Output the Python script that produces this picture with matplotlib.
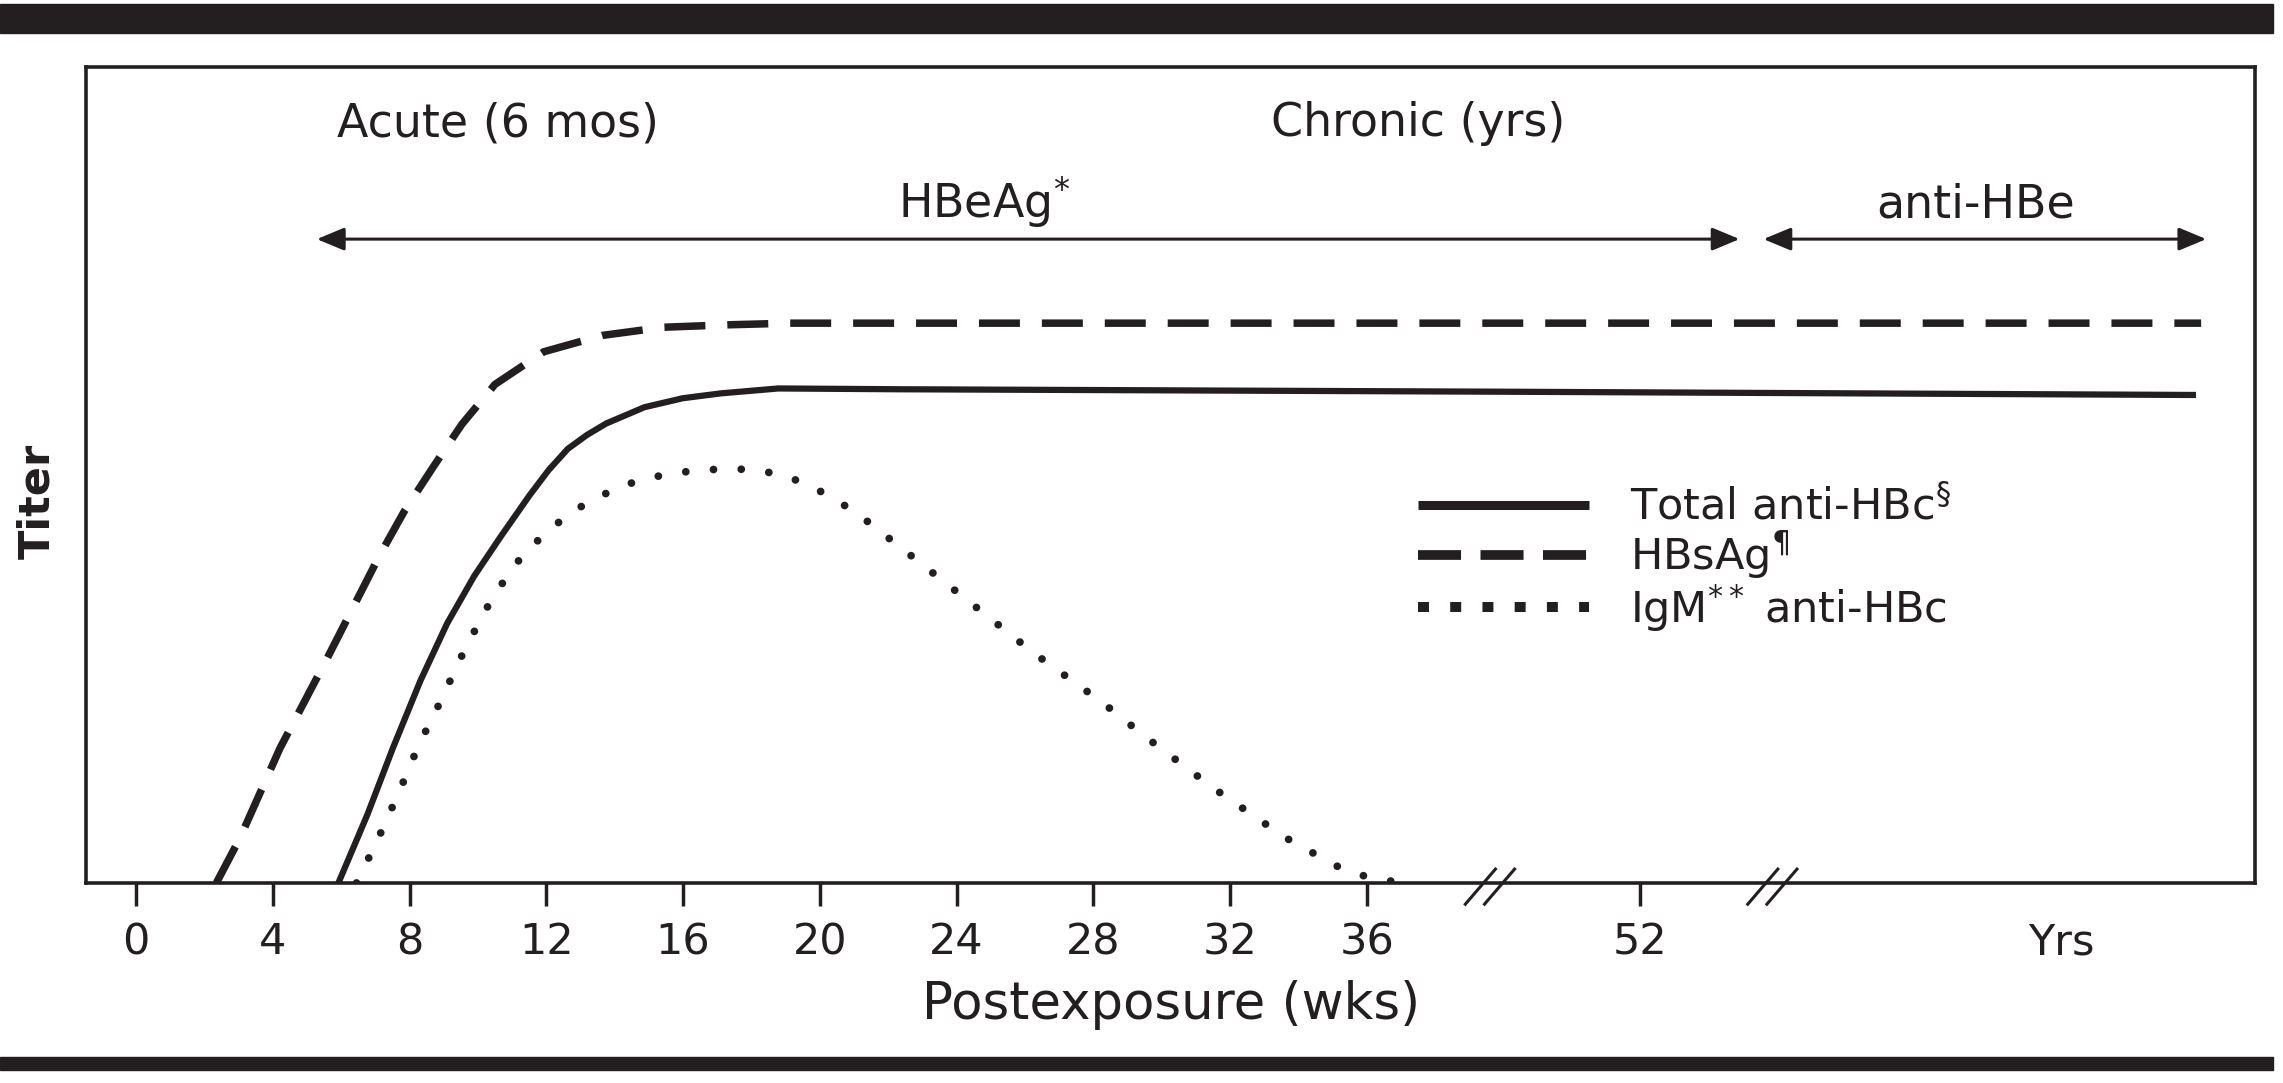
import matplotlib
matplotlib.use('Agg')
import matplotlib.pyplot as plt
from matplotlib.lines import Line2D
from matplotlib.patches import Rectangle

plt.rcParams['font.family'] = ['DejaVu Sans']
plt.rcParams['mathtext.fontset'] = 'dejavusans'
plt.rcParams['lines.scale_dashes'] = False  # dash patterns below are in points

INK = '#231f20'

# x values are on the chart's own broken scale: weeks 0-36 as drawn,
# the "52" tick sits at 44 and the "Yrs" section comes after the second break
tick_pos = [0, 4, 8, 12, 16, 20, 24, 28, 32, 36, 44, 56.3]
tick_labels = ['0', '4', '8', '12', '16', '20', '24', '28', '32', '36', '52', 'Yrs']
break_pos = [39.6, 47.86]

# HBsAg (dashed)
hbsag_x = [2.35, 3.04, 4.21, 5.6, 7.12, 7.84, 8.68, 9.53, 10.5, 11.93, 13.64,
           15.43, 17.33, 19.12, 60.4]
hbsag_y = [0, 5.5, 16.5, 27.6, 40.1, 45.5, 50.9, 56.2, 61.1, 65.1, 67.1,
           68.1, 68.4, 68.6, 68.6]

# Total anti-HBc (solid)
total_x = [5.92, 6.77, 7.52, 8.32, 9.1, 9.89, 10.66, 11.51, 12.07, 12.63, 13.19,
           13.75, 14.31, 14.87, 15.99, 17.11, 18.79, 22.35, 40.0, 60.25]
total_y = [0, 8.4, 16.6, 24.8, 31.8, 37.6, 42.4, 47.5, 50.6, 53.2, 54.9,
           56.3, 57.3, 58.3, 59.4, 60.0, 60.6, 60.5, 60.2, 59.8]

# IgM anti-HBc (dotted)
igm_x = [6.45, 7.09, 7.7, 8.26, 8.9, 9.5, 10.2, 11.0, 11.56, 12.12, 12.8,
         13.52, 14.31, 15.2, 16.1, 16.99, 17.89, 18.84, 19.66, 20.41, 21.12,
         21.79, 22.4, 24.33, 26.25, 28.27, 29.56, 31.52, 33.6, 35.1, 35.89,
         36.74, 37.0]
igm_y = [0, 5.5, 11.2, 16.8, 22.2, 27.6, 33.3, 38.6, 41.2, 43.4, 45.6,
         47.3, 48.8, 49.8, 50.4, 50.7, 50.7, 50.1, 48.8, 47.1, 45.2,
         43.0, 41.0, 34.6, 28.2, 22.1, 17.8, 11.6, 5.6, 2.1, 0.9,
         0.2, 0]

series_labels = ['Total anti-HBc$^{§}$', 'HBsAg$^{¶}$', 'IgM$^{**}$ anti-HBc']

phase_labels = ['Acute (6 mos)', 'Chronic (yrs)']
phase_x = [10.6, 37.5]
marker_labels = ['HBeAg$^{*}$', 'anti-HBe']
marker_x = [24.8, 53.8]
marker_spans = [(5.29, 46.9), (47.6, 60.55)]
arrow_y = 78.9

fig = plt.figure(figsize=(22.83, 10.83), dpi=100)
ax = fig.add_axes([0.0377, 0.1847, 0.9501, 0.7535])

# heavy rules above and below the figure
fig.patches.append(Rectangle((0, 0.9695), 0.9956, 0.0268, transform=fig.transFigure,
                             color=INK, zorder=0))
fig.patches.append(Rectangle((0, 0.0120), 0.9956, 0.0120, transform=fig.transFigure,
                             color=INK, zorder=0))

ax.plot(total_x, total_y, color=INK, lw=4.5, solid_capstyle='butt', solid_joinstyle='round')
ax.plot(hbsag_x, hbsag_y, color=INK, lw=5.4, dashes=(29.5, 15.8), dash_capstyle='butt')
ax.plot(igm_x, igm_y, color=INK, lw=5.6, dashes=(0.01, 20), dash_capstyle='round')

ax.set_xlim(-1.46, 61.98)
ax.set_ylim(0, 100)
ax.set_yticks([])
ax.set_xticks(tick_pos)
ax.set_xticklabels(tick_labels)
ax.tick_params(axis='x', direction='out', length=16.5, width=2.5, pad=11,
               labelsize=31, colors=INK)
ax.xaxis.get_major_ticks()[-1].tick1line.set_visible(False)
for sp in ax.spines.values():
    sp.set_linewidth(2.6)
    sp.set_color(INK)

# axis break marks
for bx in break_pos:
    for off in (-0.28, 0.28):
        ax.plot([bx + off - 0.44, bx + off + 0.44], [-2.6, 1.7], color=INK, lw=2.2,
                clip_on=False)

for lab, px in zip(phase_labels, phase_x):
    ax.text(px, 91.5, lab, ha='center', va='baseline', fontsize=33, color=INK)
for lab, px in zip(marker_labels, marker_x):
    ax.text(px, 81.5, lab, ha='center', va='baseline', fontsize=33, color=INK)
for x0, x1 in marker_spans:
    ax.annotate('', xy=(x1, arrow_y), xytext=(x0, arrow_y),
                arrowprops=dict(arrowstyle='<|-|>,head_length=0.6,head_width=0.25',
                                mutation_scale=28, lw=2.2, color=INK,
                                shrinkA=0, shrinkB=0))

ax.set_xlabel('Postexposure (wks)', fontsize=37, color=INK, labelpad=12)
ax.set_ylabel('Titer', fontsize=31, fontweight='bold', color=INK)
ax.yaxis.set_label_coords(-0.0226, 0.468)
ax.yaxis.label.set_va('center')

handles = [
    Line2D([], [], color=INK, lw=6.5, solid_capstyle='butt'),
    Line2D([], [], color=INK, lw=7.0, dashes=(31, 14), dash_capstyle='butt'),
    Line2D([], [], color=INK, lw=7.2, dashes=(7.9, 15.3), dash_capstyle='butt'),
]
ax.legend(handles, series_labels, loc='center left', bbox_to_anchor=(0.6141, 0.3958),
          frameon=False, fontsize=31, handlelength=3.97, handletextpad=0.95,
          labelspacing=0.02, borderpad=0, borderaxespad=0, labelcolor=INK)

fig.savefig('out.png', dpi=100)
